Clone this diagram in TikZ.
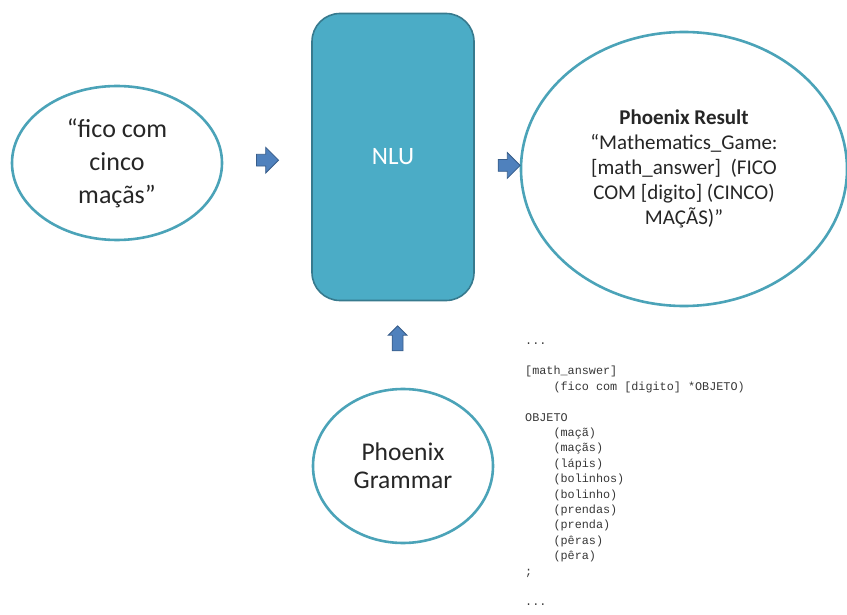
\documentclass[tikz,border=0pt]{standalone}
\usepackage{fontspec}
\setmainfont{Carlito}
\newfontfamily\codefont{Liberation Mono}
\usetikzlibrary{shapes.geometric,shapes.arrows,calc}

\definecolor{ringcol}{RGB}{75,163,184}
\definecolor{nlufill}{RGB}{75,172,198}
\definecolor{nludraw}{RGB}{55,122,142}
\definecolor{arrfill}{RGB}{79,129,189}
\definecolor{arrdraw}{RGB}{56,93,138}
\definecolor{codecol}{RGB}{55,55,55}

\tikzset{
  bubble/.style={ellipse, draw=ringcol, line width=2.6pt, fill=white,
    align=center, inner sep=0pt, text=black!85},
  nlubox/.style={rectangle, rounded corners=28pt, draw=nludraw, line width=1.6pt,
    fill=nlufill, text=white, inner sep=0pt},
  blockarrow/.style={single arrow, draw=arrdraw, line width=0.8pt, fill=arrfill,
    inner xsep=0pt, inner ysep=5.5pt, minimum height=22pt,
    single arrow head extend=7pt},
  uparrow/.style={single arrow, draw=arrdraw, line width=0.8pt, fill=arrfill,
    inner xsep=0pt, inner ysep=5pt, minimum height=25pt,
    single arrow head extend=4pt, rotate=90},
  listing/.style={anchor=north west, align=left, inner sep=0pt, text=codecol,
    font=\codefont\fontsize{11.8}{15.4}\selectfont}
}

\begin{document}
\begin{tikzpicture}[x=1pt,y=-1pt]
  \useasboundingbox (0,0) rectangle (847,615);

  % input utterance
  \node[bubble, minimum width=210pt, minimum height=154pt,
        font=\fontsize{26}{33}\selectfont] (utt) at (117,163)
        {“fico com\\cinco\\maçãs”};

  % NLU block
  \node[nlubox, minimum width=162pt, minimum height=287pt,
        font=\fontsize{25}{28}\selectfont] (nlu) at (393,157) {NLU};

  % parser output
  \node[bubble, minimum width=326pt, minimum height=274pt,
        font=\fontsize{21}{25}\selectfont] (res) at (684,169)
        {\textbf{Phoenix Result}\\“Mathematics\_Game:\\{}[math\_answer]\ \ (FICO\\COM [digito] (CINCO)\\MAÇÃS)”};

  % grammar
  \node[bubble, minimum width=180pt, minimum height=154pt,
        font=\fontsize{25.5}{28}\selectfont] (gram) at (403,466)
        {Phoenix\\Grammar};

  % block arrows between the stages
  \node[blockarrow] (a1) at ($(utt.east)!0.47!(nlu.west)$) {};
  \node[blockarrow] (a2) at ($(nlu.east)!0.7!(res.west)$) {};
  \node[uparrow] (a3) at ($(nlu.south)!0.46!(gram.north)$) {};

  % grammar excerpt
  \newcommand{\ind}{\hphantom{0000}}
  \node[listing] (code) at (525,333.2) {\strut...\\
\mbox{}\\
{}[math\_answer]\\
\ind(fico com [digito] *OBJETO)\\
\mbox{}\\
OBJETO\\
\ind(maçã)\\
\ind(maçãs)\\
\ind(lápis)\\
\ind(bolinhos)\\
\ind(bolinho)\\
\ind(prendas)\\
\ind(prenda)\\
\ind(pêras)\\
\ind(pêra)\\
;\\
\mbox{}\\
...};
\end{tikzpicture}
\end{document}
